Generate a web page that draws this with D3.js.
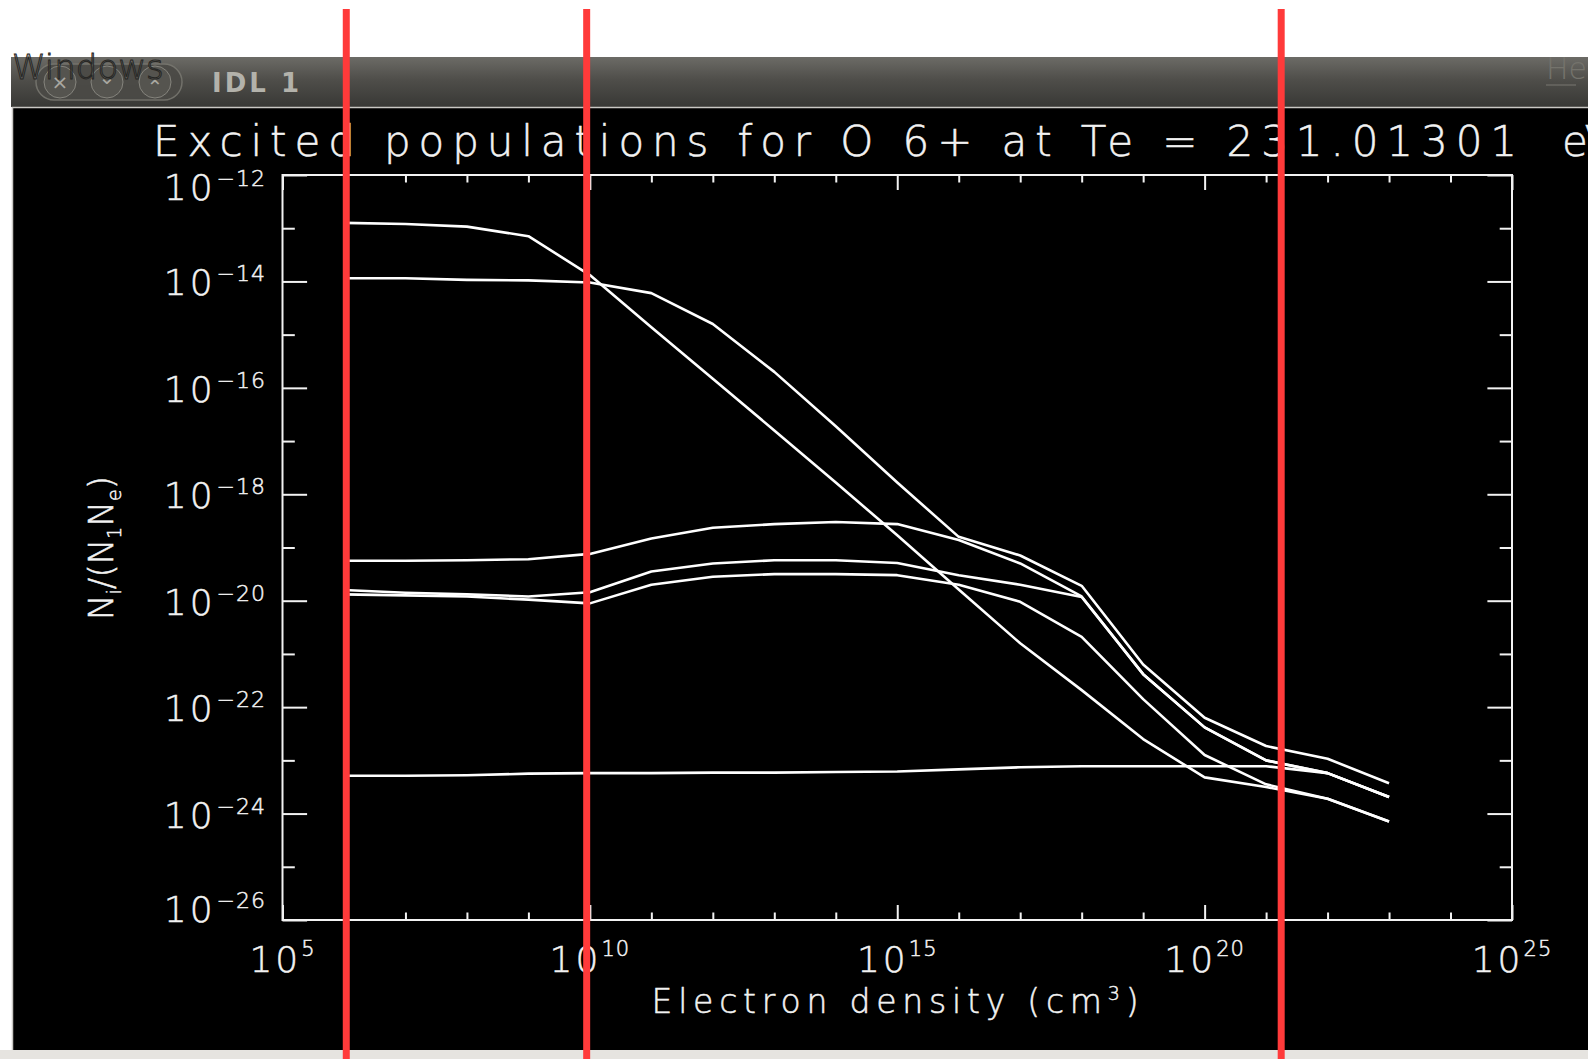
<!DOCTYPE html>
<html>
<head>
<meta charset="utf-8">
<title>Excited populations for O 6+</title>
<script src="https://cdnjs.cloudflare.com/ajax/libs/d3/7.8.5/d3.min.js"></script>
<style>
  html, body { margin: 0; padding: 0; background: #fff; overflow: hidden; }
  svg { display: block; }
  text { font-family: "DejaVu Sans", sans-serif; }
</style>
</head>
<body>
<div id="chart"></div>
<script>
// log10 of the electron density (cm^-3) of each computed point
const logDensity = [6, 7, 8, 9, 10, 11, 12, 13, 14, 15, 16, 17, 18, 19, 20, 21, 22, 23];

// log10 of N_i/(N_1 N_e) for the six excited levels
const levelA = [-12.90, -12.92, -12.97, -13.15, -13.88, -14.86, -15.83, -16.80, -17.78, -18.77, -19.79, -20.80, -21.68, -22.60, -23.32, -23.50, -23.72, -24.15];
const levelB = [-13.94, -13.94, -13.97, -13.98, -14.02, -14.22, -14.80, -15.70, -16.72, -17.78, -18.80, -19.15, -19.72, -21.20, -22.20, -22.73, -22.97, -23.43];
const levelC = [-19.25, -19.25, -19.24, -19.22, -19.12, -18.83, -18.63, -18.56, -18.52, -18.56, -18.86, -19.30, -19.92, -21.38, -22.38, -23.00, -23.24, -23.69];
const levelD = [-19.80, -19.85, -19.88, -19.92, -19.84, -19.45, -19.30, -19.24, -19.24, -19.29, -19.52, -19.70, -19.93, -21.38, -22.38, -23.00, -23.24, -23.69];
const levelE = [-19.88, -19.90, -19.92, -19.98, -20.05, -19.70, -19.55, -19.50, -19.50, -19.52, -19.70, -20.02, -20.68, -21.85, -22.90, -23.45, -23.72, -24.15];
const levelF = [-23.29, -23.29, -23.28, -23.25, -23.24, -23.24, -23.23, -23.23, -23.22, -23.21, -23.17, -23.13, -23.11, -23.11, -23.11, -23.11, -23.24, -23.69];
const levels = [levelA, levelB, levelC, levelD, levelE, levelF];

// axis ticks (exponents)
const xMajorExp = [5, 10, 15, 20, 25];
const xMinorExp = [6, 7, 8, 9, 11, 12, 13, 14, 16, 17, 18, 19, 21, 22, 23, 24];
const yMajorExp = [-12, -14, -16, -18, -20, -22, -24, -26];
const yMinorExp = [-13, -15, -17, -19, -21, -23, -25];

// red marker lines drawn over the screenshot (density)
const markerDensity = [1.09e6, 8.87e9, 1.76e21];

const titleText = "Excited populations for O 6+ at Te = 231.01301";

const W = 1588, H = 1059;
const svg = d3.select("#chart").append("svg")
    .attr("width", W)
    .attr("height", H);

// ---- window chrome ----
const defs = svg.append("defs");
const grad = defs.append("linearGradient").attr("id", "bar").attr("x1", 0).attr("x2", 0).attr("y1", 0).attr("y2", 1);
grad.append("stop").attr("offset", "0%").attr("stop-color", "#6c6b66");
grad.append("stop").attr("offset", "45%").attr("stop-color", "#4f4e4a");
grad.append("stop").attr("offset", "100%").attr("stop-color", "#383835");

svg.append("rect").attr("width", W).attr("height", H).attr("fill", "#fff");
svg.append("rect").attr("x", 11).attr("y", 57).attr("width", W - 11).attr("height", 50).attr("fill", "url(#bar)");

svg.append("rect").attr("x", 36).attr("y", 64).attr("width", 146).attr("height", 36).attr("rx", 18)
    .attr("fill", "#4b4a46").attr("stroke", "#77766f").attr("stroke-width", 1.5).attr("opacity", 0.9);
const btnX = [60, 107, 155];
const btnSym = ["×", "⌄", "⌃"];
btnX.forEach((bx, i) => {
  svg.append("circle").attr("cx", bx).attr("cy", 82).attr("r", 16)
      .attr("fill", "#55544f").attr("stroke", "#85847d").attr("stroke-width", 1);
  svg.append("text").attr("x", bx).attr("y", i === 0 ? 89 : (i === 1 ? 84 : 94))
      .attr("text-anchor", "middle").attr("font-size", 20).attr("fill", "#a9a8a1")
      .text(btnSym[i]);
});

svg.append("text").attr("x", 12).attr("y", 79)
    .attr("font-size", 34).attr("font-weight", 200).attr("fill", "#6d6c67").attr("fill-opacity", 0.55)
    .attr("stroke", "#262624").attr("stroke-width", 1)
    .text("Windows");

svg.append("text").attr("x", 212).attr("y", 92)
    .attr("font-weight", "bold").attr("font-size", 26).attr("letter-spacing", 3)
    .attr("fill", "#b3b2ab").text("IDL 1");

svg.append("text").attr("x", 1546).attr("y", 79)
    .attr("font-size", 30).attr("font-weight", 200).attr("fill", "#74736c")
    .text("He");
svg.append("line").attr("x1", 1546).attr("x2", 1576).attr("y1", 85).attr("y2", 85)
    .attr("stroke", "#6a6963").attr("stroke-width", 1.5);

// black drawing area
svg.append("rect").attr("x", 12).attr("y", 107).attr("width", W - 12).attr("height", 943).attr("fill", "#000");
svg.append("path").attr("d", `M12.5,1050V107.5H${W}`).attr("fill", "none")
    .attr("stroke", "#c9c8c4").attr("stroke-width", 1.5);
svg.append("rect").attr("x", 0).attr("y", 1050).attr("width", W).attr("height", H - 1050).attr("fill", "#e6e4e0");

// ---- plot ----
const x = d3.scaleLog().domain([1e5, 1e25]).range([282.5, 1512]);
const y = d3.scaleLog().domain([1e-26, 1e-12]).range([920, 175]);
const pow = e => Math.pow(10, e);

const ink = "#f2f2f2";
const fontW = 200;

// ticks on all four sides, inward, IDL style
function tickAxis(axis, vals, len, transform) {
  const g = svg.append("g").attr("transform", transform)
      .call(axis.tickValues(vals.map(pow)).tickSizeInner(-len).tickSizeOuter(0).tickFormat(""));
  g.select(".domain").remove();
  g.selectAll("line").attr("stroke", ink).attr("stroke-width", 2);
}
tickAxis(d3.axisBottom(x), xMajorExp, 15, "translate(0,920)");
tickAxis(d3.axisBottom(x), xMinorExp, 7.5, "translate(0,920)");
tickAxis(d3.axisTop(x), xMajorExp, 15, "translate(0,175)");
tickAxis(d3.axisTop(x), xMinorExp, 7.5, "translate(0,175)");
tickAxis(d3.axisLeft(y), yMajorExp, 24.6, "translate(282.5,0)");
tickAxis(d3.axisLeft(y), yMinorExp, 12.3, "translate(282.5,0)");
tickAxis(d3.axisRight(y), yMajorExp, 24.6, "translate(1512,0)");
tickAxis(d3.axisRight(y), yMinorExp, 12.3, "translate(1512,0)");

svg.append("rect")
    .attr("x", x(1e5)).attr("y", y(1e-12))
    .attr("width", x(1e25) - x(1e5)).attr("height", y(1e-26) - y(1e-12))
    .attr("fill", "none").attr("stroke", ink).attr("stroke-width", 2);

// plot texts get a hairline stroke so the thin face reads like IDL's vector font
function inkText(sel) {
  return sel.attr("fill", ink).attr("stroke", ink).attr("stroke-width", 0.5).attr("font-weight", fontW);
}

// x tick labels
xMajorExp.forEach(e => {
  const t = inkText(svg.append("text")).attr("x", x(pow(e))).attr("y", 972)
      .attr("text-anchor", "middle").attr("font-size", 36).attr("letter-spacing", 3);
  t.append("tspan").text("10");
  t.append("tspan").attr("dy", -16).attr("font-size", 21).attr("letter-spacing", 1).text(e);
});

// y tick labels (IDL nudges the end labels inside the axis range)
yMajorExp.forEach(e => {
  const nudge = e === -12 ? 25 : (e === -26 ? 2 : 14);
  const t = inkText(svg.append("text")).attr("x", 266).attr("y", y(pow(e)) + nudge)
      .attr("text-anchor", "end").attr("font-size", 36).attr("letter-spacing", 3);
  t.append("tspan").text("10");
  t.append("tspan").attr("dx", 1).attr("dy", -14).attr("font-size", 22).attr("letter-spacing", 1)
      .text("\u2212" + Math.abs(e));
});

// title
inkText(svg.append("text")).attr("x", 153).attr("y", 156)
    .attr("font-size", 42)
    .attr("textLength", 1364).attr("lengthAdjust", "spacing")
    .text(titleText);
inkText(svg.append("text")).attr("x", 1562).attr("y", 156)
    .attr("font-size", 42)
    .text("eV");

// x axis title
const xt = inkText(svg.append("text")).attr("x", 895).attr("y", 1013)
    .attr("text-anchor", "middle").attr("font-size", 33)
    .attr("textLength", 487).attr("lengthAdjust", "spacing");
xt.append("tspan").text("Electron density (cm");
xt.append("tspan").attr("dy", -13).attr("font-size", 19).text("3");
xt.append("tspan").attr("dy", 13).text(")");

// y axis title
const yt = inkText(svg.append("text")).attr("transform", "translate(113,548) rotate(-90)")
    .attr("text-anchor", "middle").attr("font-size", 34)
    .attr("textLength", 144).attr("lengthAdjust", "spacing");
yt.append("tspan").text("N");
yt.append("tspan").attr("dy", 8).attr("font-size", 19).text("i");
yt.append("tspan").attr("dy", -8).text("/(N");
yt.append("tspan").attr("dy", 8).attr("font-size", 19).text("1");
yt.append("tspan").attr("dy", -8).text("N");
yt.append("tspan").attr("dy", 8).attr("font-size", 19).text("e");
yt.append("tspan").attr("dy", -8).text(")");

// population curves
const line = d3.line()
    .x((v, i) => x(pow(logDensity[i])))
    .y(v => y(pow(v)));

svg.append("g")
  .selectAll("path")
  .data(levels)
  .join("path")
    .attr("d", line)
    .attr("fill", "none")
    .attr("stroke", "#fff")
    .attr("stroke-width", 2.6)
    .attr("stroke-linejoin", "round");

// red marker lines
svg.append("g")
  .selectAll("line")
  .data(markerDensity)
  .join("line")
    .attr("x1", d => x(d)).attr("x2", d => x(d))
    .attr("y1", 9).attr("y2", H)
    .attr("stroke", "#ff3a3a")
    .attr("stroke-width", 7);
</script>
</body>
</html>
